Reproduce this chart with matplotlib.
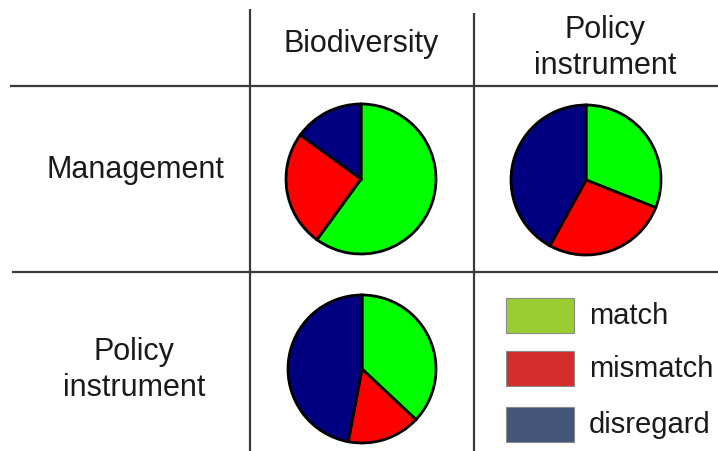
import matplotlib
matplotlib.use('Agg')
from matplotlib import pyplot as plt
from matplotlib.patches import Rectangle

plt.rcParams['font.family'] = ['Liberation Sans', 'DejaVu Sans']

W, H = 718, 452

# data (percent of cases)
labels = ['match', 'mismatch', 'disregard']
mgmt_biodiv = [60, 25, 15]
mgmt_policy = [31, 27, 42]
policy_biodiv = [37, 16, 47]

col_headers = ['Biodiversity', 'Policy\ninstrument']
row_headers = ['Management', 'Policy\ninstrument']

pie_colors = ['#00ff00', '#ff0000', '#000080']
legend_colors = ['#9acd32', '#d42b2b', '#44557a']

fig = plt.figure(figsize=(W / 100, H / 100), dpi=100)
ax = fig.add_axes([0, 0, 1, 1])
ax.set_xlim(0, W)
ax.set_ylim(0, H)
ax.set_aspect('equal')
ax.axis('off')


def Y(y):
    # pixel row (from top) to data y
    return H - y


# table lines
line_kw = dict(color='#3a3a3a', lw=1.6, solid_capstyle='butt')
ax.plot([10, W], [Y(87), Y(87)], **line_kw)
ax.plot([12, W], [Y(273), Y(273)], **line_kw)
ax.plot([250, 250], [Y(10), Y(H)], **line_kw)
ax.plot([474, 474], [Y(14), Y(H)], **line_kw)

# headers
txt_kw = dict(fontsize=22, color='#1a1a1a', ha='center', va='center', linespacing=1.22)
ax.text(361, Y(44), col_headers[0], **txt_kw)
ax.text(605, Y(48), col_headers[1], **txt_kw)
ax.text(135, Y(170), row_headers[0], **txt_kw)
ax.text(134, Y(370), row_headers[1], **txt_kw)

# pies
pies = [(mgmt_biodiv, (361, 180), 75),
        (mgmt_policy, (586, 181), 75),
        (policy_biodiv, (362, 370), 74)]
for vals, (cx, cy), r in pies:
    ax.pie(vals, colors=pie_colors, center=(cx, Y(cy)), radius=r,
           startangle=90, counterclock=False, frame=True,
           wedgeprops=dict(edgecolor='black', linewidth=2))

ax.set_xlim(0, W)
ax.set_ylim(0, H)
ax.axis('off')

# legend
box_tops = [299, 352, 408]
for lab, c, top in zip(labels, legend_colors, box_tops):
    ax.add_patch(Rectangle((506, Y(top + 35)), 68, 35, facecolor=c,
                           edgecolor='#8a8a8a', lw=0.8))
    ax.text(589, Y(top + 17), lab, fontsize=21, color='#1a1a1a',
            ha='left', va='center')

fig.savefig('out.png', dpi=100)
